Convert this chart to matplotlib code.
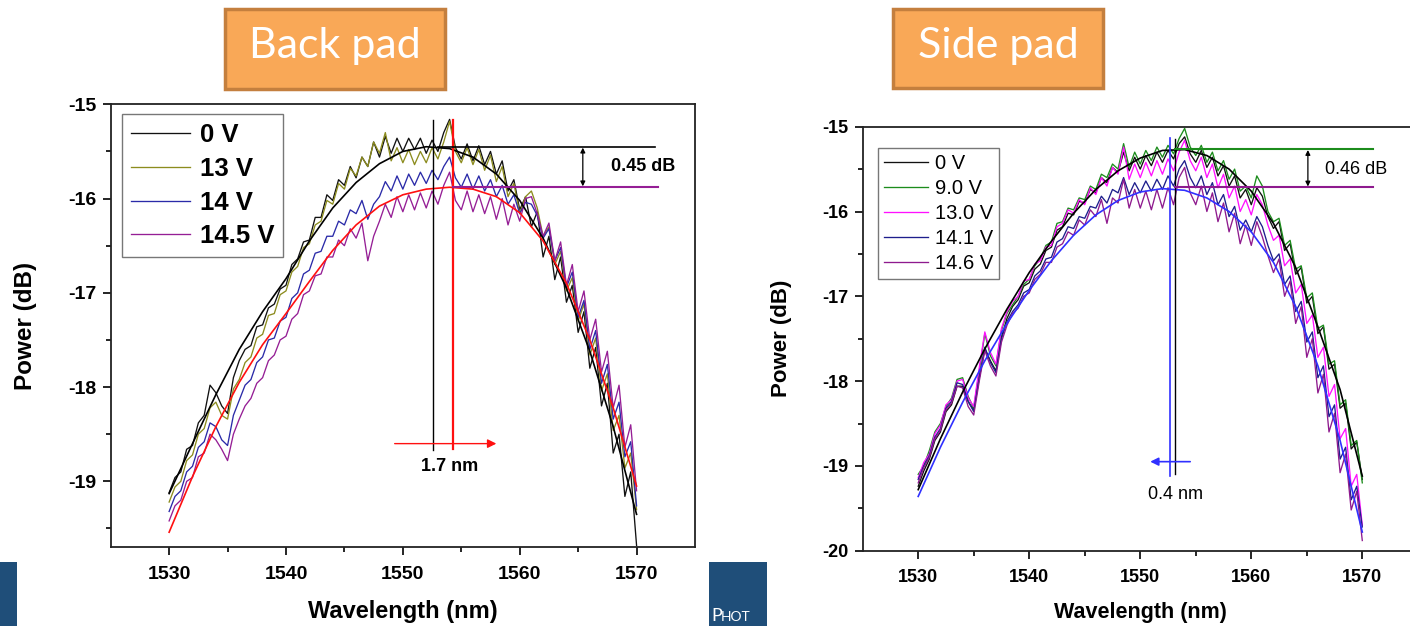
import numpy as np
import matplotlib
matplotlib.use("Agg")
import matplotlib.pyplot as plt
from matplotlib.patches import Rectangle

plt.rcParams['font.family'] = ['Liberation Sans', 'DejaVu Sans']
plt.rcParams['axes.unicode_minus'] = False

# ---------------- data ----------------
wl = np.arange(1530, 1570.01, 0.5)          # spectra sampled every 0.5 nm
wl_fit = np.arange(1530, 1570.01, 2.0)      # fitted curves every 2 nm

# Back pad
back_labels = ['0 V', '13 V', '14 V', '14.5 V']
back_0v = [
    -19.12, -18.96, -18.90, -18.66, -18.62, -18.38, -18.30, -17.98, -18.06, -18.20,
    -18.28, -17.90, -17.72, -17.60, -17.56, -17.36, -17.34, -17.16, -17.12, -16.96,
    -16.92, -16.70, -16.64, -16.46, -16.44, -16.20, -16.20, -15.96, -16.02, -15.80,
    -15.86, -15.66, -15.78, -15.56, -15.66, -15.40, -15.56, -15.34, -15.52, -15.36,
    -15.50, -15.36, -15.48, -15.36, -15.52, -15.38, -15.50, -15.30, -15.16, -15.46,
    -15.58, -15.42, -15.60, -15.44, -15.64, -15.50, -15.74, -15.60, -15.92, -15.80,
    -16.12, -15.98, -16.30, -16.14, -16.62, -16.40, -16.86, -16.62, -17.10, -16.92,
    -17.42, -17.20, -17.80, -17.58, -18.20, -17.96, -18.70, -18.50, -19.16, -18.90,
    -19.68]
back_13v = [
    -19.22, -19.06, -19.00, -18.78, -18.72, -18.50, -18.44, -18.22, -18.16, -18.30,
    -18.34, -18.02, -17.92, -17.74, -17.68, -17.48, -17.44, -17.24, -17.22, -17.02,
    -16.98, -16.78, -16.72, -16.52, -16.48, -16.28, -16.24, -16.02, -16.06, -15.84,
    -15.90, -15.68, -15.76, -15.56, -15.66, -15.40, -15.52, -15.30, -15.60, -15.46,
    -15.62, -15.48, -15.64, -15.50, -15.62, -15.46, -15.58, -15.40, -15.18, -15.50,
    -15.62, -15.46, -15.64, -15.48, -15.70, -15.54, -15.82, -15.66, -15.98, -15.84,
    -16.16, -15.98, -15.92, -16.10, -16.40, -16.30, -16.70, -16.56, -16.98, -16.84,
    -17.30, -17.12, -17.66, -17.48, -18.04, -17.86, -18.46, -18.30, -18.86, -18.70,
    -19.30]
back_14v = [
    -19.32, -19.16, -19.10, -18.90, -18.84, -18.64, -18.58, -18.38, -18.42, -18.56,
    -18.62, -18.30, -18.14, -17.98, -17.92, -17.74, -17.68, -17.50, -17.48, -17.30,
    -17.26, -17.06, -17.00, -16.80, -16.76, -16.58, -16.56, -16.40, -16.40, -16.24,
    -16.28, -16.12, -16.16, -16.02, -16.22, -16.06, -15.98, -15.82, -15.92, -15.76,
    -15.90, -15.74, -15.86, -15.72, -15.84, -15.70, -15.80, -15.66, -15.56, -15.78,
    -15.88, -15.74, -15.90, -15.76, -15.92, -15.80, -15.98, -15.86, -16.06, -15.96,
    -16.16, -16.04, -16.06, -16.18, -16.42, -16.32, -16.66, -16.52, -16.94, -16.78,
    -17.26, -17.08, -17.60, -17.40, -17.96, -17.76, -18.34, -18.16, -18.74, -18.58,
    -19.26]
back_145v = [
    -19.42, -19.26, -19.20, -19.00, -18.96, -18.74, -18.70, -18.50, -18.56, -18.66,
    -18.78, -18.50, -18.34, -18.20, -18.12, -17.96, -17.90, -17.72, -17.66, -17.50,
    -17.46, -17.28, -17.22, -17.02, -16.98, -16.82, -16.80, -16.62, -16.62, -16.44,
    -16.50, -16.32, -16.42, -16.26, -16.66, -16.40, -16.24, -16.06, -16.20, -15.98,
    -16.14, -15.96, -16.12, -15.94, -16.10, -15.92, -16.06, -15.86, -15.72, -16.02,
    -16.12, -15.92, -16.14, -15.96, -16.16, -15.98, -16.22, -16.00, -16.28, -16.06,
    -16.24, -16.00, -15.98, -16.16, -16.40, -16.26, -16.66, -16.46, -16.92, -16.70,
    -17.20, -16.98, -17.50, -17.28, -17.84, -17.62, -18.22, -17.98, -18.64, -18.40,
    -19.10]
back_fit_0v = [-19.13, -18.60, -18.08, -17.60, -17.20, -16.85, -16.45, -16.10, -15.83, -15.63,
               -15.50, -15.45, -15.47, -15.56, -15.74, -16.02, -16.42, -16.95, -17.62, -18.42,
               -19.35]
back_fit_145v = [-19.54, -18.95, -18.42, -17.95, -17.55, -17.22, -16.88, -16.55, -16.28, -16.08,
                 -15.96, -15.90, -15.88, -15.90, -15.98, -16.15, -16.45, -16.90, -17.50, -18.22,
                 -19.05]
back_peaks = [1552.6, 1554.3]          # nm, fitted centres (0 V, 14.5 V)
back_levels = [-15.45, -15.88]         # dB, fitted maxima

# Side pad
side_labels = ['0 V', '9.0 V', '13.0 V', '14.1 V', '14.6 V']
side_0v = [
    -19.24, -19.06, -18.92, -18.70, -18.60, -18.36, -18.28, -18.06, -18.06, -18.24,
    -18.34, -17.96, -17.62, -17.76, -17.88, -17.48, -17.26, -17.12, -17.04, -16.88,
    -16.84, -16.68, -16.62, -16.46, -16.42, -16.22, -16.18, -16.02, -16.04, -15.88,
    -15.90, -15.74, -15.78, -15.60, -15.66, -15.48, -15.54, -15.30, -15.52, -15.36,
    -15.50, -15.34, -15.46, -15.30, -15.42, -15.28, -15.38, -15.20, -15.12, -15.32,
    -15.42, -15.28, -15.48, -15.36, -15.58, -15.46, -15.70, -15.58, -15.84, -15.74,
    -15.92, -15.72, -15.82, -16.06, -16.20, -16.12, -16.46, -16.38, -16.74, -16.66,
    -17.08, -17.00, -17.44, -17.36, -17.86, -17.80, -18.32, -18.26, -18.80, -18.72,
    -19.16]
side_9v = [
    -19.10, -19.00, -18.82, -18.60, -18.50, -18.30, -18.20, -17.98, -17.96, -18.18,
    -18.32, -17.88, -17.44, -17.70, -17.82, -17.40, -17.20, -17.10, -17.00, -16.86,
    -16.80, -16.64, -16.56, -16.40, -16.36, -16.14, -16.12, -15.96, -15.98, -15.84,
    -15.86, -15.70, -15.74, -15.56, -15.60, -15.44, -15.50, -15.20, -15.48, -15.30,
    -15.44, -15.28, -15.40, -15.24, -15.36, -15.22, -15.32, -15.14, -15.02, -15.24,
    -15.34, -15.22, -15.42, -15.30, -15.52, -15.40, -15.62, -15.50, -15.76, -15.70,
    -15.84, -15.58, -15.70, -16.00, -16.12, -16.08, -16.40, -16.34, -16.68, -16.64,
    -17.02, -16.96, -17.38, -17.34, -17.80, -17.76, -18.28, -18.22, -18.76, -18.70,
    -19.20]
side_13v = [
    -19.14, -18.96, -18.86, -18.62, -18.52, -18.28, -18.22, -18.00, -17.98, -18.20,
    -18.30, -17.84, -17.42, -17.66, -17.80, -17.38, -17.18, -17.06, -17.00, -16.82,
    -16.80, -16.62, -16.58, -16.42, -16.40, -16.18, -16.14, -15.98, -16.02, -15.86,
    -15.92, -15.72, -15.80, -15.60, -15.70, -15.48, -15.56, -15.24, -15.62, -15.44,
    -15.60, -15.42, -15.58, -15.40, -15.56, -15.38, -15.52, -15.30, -15.16, -15.40,
    -15.52, -15.36, -15.60, -15.44, -15.72, -15.56, -15.84, -15.70, -16.00, -15.86,
    -16.04, -15.80, -15.92, -16.16, -16.34, -16.28, -16.64, -16.56, -16.96, -16.86,
    -17.32, -17.22, -17.72, -17.60, -18.18, -18.04, -18.68, -18.56, -19.24, -19.10,
    -19.70]
side_141v = [
    -19.16, -19.00, -18.88, -18.66, -18.56, -18.32, -18.24, -18.02, -18.04, -18.24,
    -18.36, -17.96, -17.60, -17.78, -17.90, -17.50, -17.30, -17.18, -17.10, -16.96,
    -16.92, -16.76, -16.70, -16.56, -16.54, -16.36, -16.32, -16.18, -16.20, -16.06,
    -16.08, -15.94, -15.96, -15.82, -15.90, -15.74, -15.78, -15.60, -15.80, -15.66,
    -15.78, -15.64, -15.76, -15.62, -15.74, -15.58, -15.70, -15.50, -15.40, -15.60,
    -15.72, -15.58, -15.80, -15.66, -15.92, -15.80, -16.06, -15.94, -16.22, -16.10,
    -16.24, -16.06, -16.18, -16.40, -16.58, -16.50, -16.86, -16.76, -17.18, -17.06,
    -17.54, -17.42, -17.96, -17.82, -18.42, -18.28, -18.92, -18.78, -19.40, -19.24,
    -19.72]
side_146v = [
    -19.20, -19.02, -18.90, -18.68, -18.58, -18.34, -18.26, -18.06, -18.08, -18.30,
    -18.40, -18.00, -17.64, -17.82, -17.94, -17.54, -17.34, -17.20, -17.14, -17.00,
    -16.96, -16.80, -16.74, -16.60, -16.60, -16.42, -16.38, -16.24, -16.28, -16.10,
    -16.16, -15.98, -16.06, -15.86, -16.14, -15.84, -15.90, -15.62, -15.96, -15.74,
    -15.96, -15.76, -15.98, -15.74, -15.96, -15.72, -15.92, -15.60, -15.48, -15.78,
    -15.92, -15.70, -16.00, -15.78, -16.12, -15.90, -16.24, -16.02, -16.38, -16.16,
    -16.40, -16.12, -16.30, -16.52, -16.72, -16.56, -17.00, -16.82, -17.32, -17.12,
    -17.72, -17.50, -18.14, -17.92, -18.60, -18.38, -19.08, -18.86, -19.52, -19.30,
    -19.88]
side_fit_0v = [-19.28, -18.68, -18.13, -17.62, -17.15, -16.72, -16.35, -16.02, -15.74, -15.52,
               -15.37, -15.28, -15.27, -15.34, -15.50, -15.76, -16.14, -16.66, -17.36, -18.10,
               -19.12]
side_fit_146v = [-19.36, -18.78, -18.25, -17.76, -17.32, -16.93, -16.58, -16.28, -16.04, -15.87,
                 -15.77, -15.73, -15.75, -15.84, -16.00, -16.24, -16.60, -17.12, -17.82, -18.70,
                 -19.78]
side_peaks = [1553.1, 1552.7]
side_levels = [-15.265, -15.715]

# ---------------- figure ----------------
W, H = 1410, 626
fig = plt.figure(figsize=(W / 100, H / 100), dpi=100)


def frac_rect(x0, y0, x1, y1):
    # pixel box (top-left origin) -> figure fraction rect
    return [x0 / W, 1 - y1 / H, (x1 - x0) / W, (y1 - y0) / H]


def style_axes(ax, tick_fs, ylo, xpad):
    ax.set_xlim(1525, 1575)
    ax.set_ylim(ylo, -15)
    ax.set_xticks([1530, 1540, 1550, 1560, 1570])
    ax.set_xticks([1535, 1545, 1555, 1565], minor=True)
    ax.set_yticks(np.arange(np.ceil(ylo), -14.9, 1))
    ax.set_yticks(np.arange(-19.5, -15, 1), minor=True)
    ax.tick_params(which='both', direction='out', width=1.2, top=False, right=False)
    ax.tick_params(which='major', length=5.5, labelsize=tick_fs, pad=5)
    ax.tick_params(axis='x', which='major', pad=xpad)
    ax.tick_params(which='minor', length=3.5)
    for lab in ax.get_xticklabels() + ax.get_yticklabels():
        lab.set_fontweight('bold')
    for s in ax.spines.values():
        s.set_linewidth(1.3)
        s.set_color('#222222')


# ---- slide leftovers: title boxes and footer blocks ----
for (x0, y0, x1, y1), txt in [((225, 9, 445, 89), 'Back pad'), ((893, 9, 1103, 88), 'Side pad')]:
    r = frac_rect(x0, y0, x1, y1)
    fig.patches.append(Rectangle((r[0], r[1]), r[2], r[3], transform=fig.transFigure,
                                 facecolor='#F9A857', edgecolor='#C47F3E', linewidth=2.5))
    fig.text(r[0] + r[2] / 2, r[1] + r[3] / 2 + 0.004, txt, ha='center', va='center',
             color='white', fontsize=31, family=['Lato', 'DejaVu Sans'])

for box in [(0, 562, 17, 626), (709, 562, 767, 626)]:
    r = frac_rect(*box)
    fig.patches.append(Rectangle((r[0], r[1]), r[2], r[3], transform=fig.transFigure,
                                 facecolor='#1F4E79', edgecolor='none'))
fig.text(711 / W, 1 - 621 / H, 'P', color='white', fontsize=13, va='baseline',
         family=['Lato', 'DejaVu Sans'])
fig.text(721 / W, 1 - 621 / H, 'HOT', color='white', fontsize=10, va='baseline',
         family=['Lato', 'DejaVu Sans'])

# ---------------- Back pad panel ----------------
ax1 = fig.add_axes(frac_rect(110.7, 104.3, 695, 547.3))
back_colors = ['#111111', '#8C8C1E', '#2A2AA8', '#951E95']
for y, c, lab in zip([back_0v, back_13v, back_14v, back_145v], back_colors, back_labels):
    ax1.plot(wl, y, color=c, lw=0.95, label=lab)
ax1.plot(wl_fit, back_fit_0v, color='black', lw=1.2)
ax1.plot(wl_fit, back_fit_145v, color='#FF1010', lw=1.2)
style_axes(ax1, 14, -19.7, 8)

# peak markers
ax1.plot([back_peaks[0]] * 2, [-15.17, -18.67], color='black', lw=1.0)
ax1.plot([back_peaks[1]] * 2, [-15.17, -18.66], color='#FF1010', lw=1.6)
ax1.plot([back_peaks[0] + 0.4, 1571.6], [back_levels[0]] * 2, color='black', lw=1.2)
ax1.plot([back_peaks[1], 1571.8], [back_levels[1]] * 2, color='#951E95', lw=1.5)
ax1.annotate('', xy=(1565.4, back_levels[0] - 0.01), xytext=(1565.4, back_levels[1] + 0.01),
             arrowprops=dict(arrowstyle='<|-|>', color='black', lw=0.9,
                             mutation_scale=7, shrinkA=0, shrinkB=0))
ax1.text(1570.6, -15.66, '0.45 dB', ha='center', va='center', fontsize=13, fontweight='bold')
ax1.annotate('', xy=(1558.0, -18.60), xytext=(1549.3, -18.60),
             arrowprops=dict(arrowstyle='-|>', color='#FF1010', lw=1.0,
                             mutation_scale=13, shrinkA=0, shrinkB=0))
ax1.text(1554.0, -18.84, '1.7 nm', ha='center', va='center', fontsize=13, fontweight='bold')

ax1.set_xlabel('Wavelength (nm)', fontsize=17, fontweight='bold')
ax1.set_ylabel('Power (dB)', fontsize=17.5, fontweight='bold')
ax1.xaxis.set_label_coords(0.5, -0.146)
ax1.xaxis.label.set_va('center')
ax1.yaxis.set_label_coords(-0.145, 0.5)
ax1.yaxis.label.set_va('center')

leg1 = ax1.legend(loc='upper left', bbox_to_anchor=(0.0185, 0.978), borderaxespad=0,
                  fancybox=False, edgecolor='#555555', handlelength=2.3, handletextpad=0.4,
                  labelspacing=0.38, borderpad=0.35,
                  prop={'size': 18.5, 'weight': 'bold'})
leg1.get_frame().set_linewidth(1.0)

# ---------------- Side pad panel ----------------
ax2 = fig.add_axes(frac_rect(862.7, 126.7, 1417.8, 550.7))
side_colors = ['#111111', '#1C8C1C', '#FF10FF', '#1E1E8C', '#8E1A8E']
for y, c, lab in zip([side_0v, side_9v, side_13v, side_141v, side_146v], side_colors, side_labels):
    ax2.plot(wl, y, color=c, lw=0.95, label=lab)
ax2.plot(wl_fit, side_fit_0v, color='black', lw=1.2)
ax2.plot(wl_fit, side_fit_146v, color='#3030FF', lw=1.2)
style_axes(ax2, 13, -20, 7.5)

ax2.plot([side_peaks[1]] * 2, [-15.13, -19.12], color='#3030FF', lw=1.2)
ax2.plot([side_peaks[0]] * 2, [-15.15, -19.10], color='black', lw=1.0)
ax2.plot([side_peaks[0], 1571.0], [side_levels[0]] * 2, color='#1C8C1C', lw=1.5)
ax2.plot([side_peaks[0], 1571.0], [side_levels[1]] * 2, color='#8E1A8E', lw=1.5)
ax2.annotate('', xy=(1565.1, side_levels[0] - 0.01), xytext=(1565.1, side_levels[1] + 0.01),
             arrowprops=dict(arrowstyle='<|-|>', color='black', lw=0.9,
                             mutation_scale=7, shrinkA=0, shrinkB=0))
ax2.text(1569.4, -15.51, '0.46 dB', ha='center', va='center', fontsize=13)
ax2.annotate('', xy=(1550.9, -18.95), xytext=(1554.5, -18.95),
             arrowprops=dict(arrowstyle='-|>', color='#3030FF', lw=1.2,
                             mutation_scale=12, shrinkA=0, shrinkB=0))
ax2.text(1553.2, -19.34, '0.4 nm', ha='center', va='center', fontsize=13)

ax2.set_xlabel('Wavelength (nm)', fontsize=15.5, fontweight='bold')
ax2.set_ylabel('Power (dB)', fontsize=16, fontweight='bold')
ax2.xaxis.set_label_coords(0.501, -0.145)
ax2.xaxis.label.set_va('center')
ax2.yaxis.set_label_coords(-0.146, 0.5)
ax2.yaxis.label.set_va('center')

leg2 = ax2.legend(loc='upper left', bbox_to_anchor=(0.027, 0.95), borderaxespad=0,
                  fancybox=False, edgecolor='#555555', handlelength=2.2, handletextpad=0.35,
                  labelspacing=0.3, borderpad=0.3, prop={'size': 14.5})
leg2.get_frame().set_linewidth(1.0)

fig.savefig('out.png', dpi=100)
